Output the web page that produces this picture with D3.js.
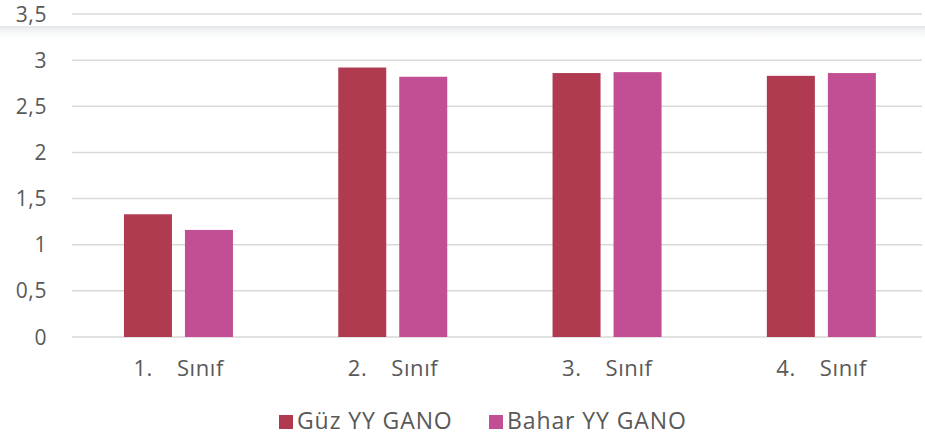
<!DOCTYPE html>
<meta charset="utf-8">
<style>
body { margin: 0; background: #fff; }
text { font-family: "Open Sans", Lato, sans-serif; fill: #595959; }
.grid line { stroke: #d9d9d9; stroke-width: 1.5px; }
</style>
<body></body>
<script src="https://cdn.jsdelivr.net/npm/d3@7"></script>
<script>
// data
var classNums = ["1.", "2.", "3.", "4."];
var classWord = "Sınıf";
var seriesNames = ["Güz YY GANO", "Bahar YY GANO"];
var guzValues = [1.33, 2.92, 2.86, 2.83];
var baharValues = [1.16, 2.82, 2.87, 2.86];
var yTicks = [0, 0.5, 1, 1.5, 2, 2.5, 3, 3.5];
var colors = ["#b03a50", "#c24e93"];

var W = 925, H = 439;
var margin = {top: 14, right: 3, bottom: 102, left: 72};

var svg = d3.select("body").append("svg")
    .attr("width", W).attr("height", H);

// band scale runs a bit past the right edge, as in the original
var x0 = d3.scaleBand().domain(classNums).range([71.3, 928.5]);
var y = d3.scaleLinear().domain([0, 3.5]).range([H - margin.bottom, margin.top]);

// gridlines
svg.append("g").attr("class", "grid")
  .selectAll("line").data(yTicks).enter().append("line")
    .attr("x1", margin.left).attr("x2", W - margin.right)
    .attr("y1", function(d) { return y(d); })
    .attr("y2", function(d) { return y(d); });

// y tick labels
svg.append("g").selectAll("text").data(yTicks).enter().append("text")
    .attr("x", 47).attr("y", function(d) { return y(d); })
    .attr("dy", "0.36em")
    .attr("text-anchor", "end")
    .style("font-size", "21px")
    .style("letter-spacing", "0.6px")
    .text(function(d) { return d3.format("")(d).replace(".", ","); });

// faint shadow band under the top
var defs = svg.append("defs");
var grad = defs.append("linearGradient").attr("id", "shade")
    .attr("x1", 0).attr("y1", 0).attr("x2", 0).attr("y2", 1);
grad.append("stop").attr("offset", "0%").attr("stop-color", "#e3e7ea").attr("stop-opacity", 1);
grad.append("stop").attr("offset", "100%").attr("stop-color", "#ffffff").attr("stop-opacity", 0);
svg.append("rect")
    .attr("x", 0).attr("y", 26).attr("width", W).attr("height", 16)
    .attr("fill", "url(#shade)");

// bars
var barW = 48, gap = 13;
var series = [guzValues, baharValues];
series.forEach(function(vals, s) {
  svg.append("g").selectAll("rect").data(vals).enter().append("rect")
      .attr("x", function(d, i) {
        var c = x0(classNums[i]) + x0.bandwidth() / 2;
        return s === 0 ? c - gap / 2 - barW : c + gap / 2;
      })
      .attr("y", function(d) { return y(d); })
      .attr("width", barW)
      .attr("height", function(d) { return y(0) - y(d); })
      .attr("fill", colors[s]);
});

// category labels
var cat = svg.append("g").selectAll("text").data(classNums).enter().append("text")
    .attr("y", 376)
    .style("font-size", "22px")
    .style("letter-spacing", "0.6px");
cat.append("tspan")
    .attr("x", function(d) { return x0(d) + x0.bandwidth() / 2 - 45; })
    .text(function(d) { return d; });
cat.append("tspan")
    .attr("x", function(d) { return x0(d) + x0.bandwidth() / 2 - 1.5; })
    .text(classWord);

// legend
var legX = [279, 489];
var leg = svg.append("g").selectAll("g").data(seriesNames).enter().append("g")
    .attr("transform", function(d, i) { return "translate(" + legX[i] + ",415)"; });
leg.append("rect").attr("width", 14).attr("height", 14)
    .attr("fill", function(d, i) { return colors[i]; });
leg.append("text").attr("x", 18).attr("y", 13.8)
    .style("font-size", "23px")
    .style("letter-spacing", "0.9px")
    .text(function(d) { return d; });
</script>
